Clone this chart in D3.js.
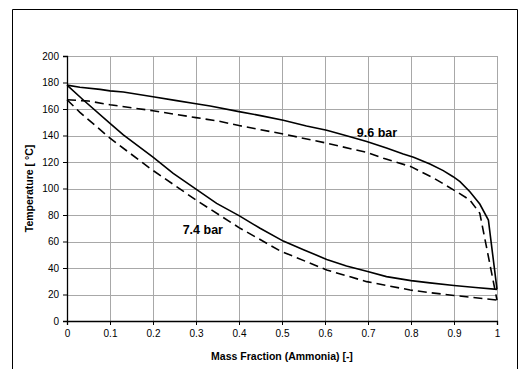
<!DOCTYPE html>
<html><head><meta charset="utf-8">
<script src="https://cdn.jsdelivr.net/npm/d3@7"></script>
<style>
html,body{margin:0;padding:0;background:#fff;}
svg{display:block;font-family:"Liberation Sans",Arial,sans-serif;}
</style></head>
<body>
<script>
// ---- data ----
const xTicks = [0, 0.1, 0.2, 0.3, 0.4, 0.5, 0.6, 0.7, 0.8, 0.9, 1];
const xTickLabels = ["0", "0.1", "0.2", "0.3", "0.4", "0.5", "0.6", "0.7", "0.8", "0.9", "1"];
const yTicks = [0, 20, 40, 60, 80, 100, 120, 140, 160, 180, 200];

const dew96X = [0, 0.03, 0.077, 0.1, 0.131, 0.2, 0.255, 0.3, 0.333, 0.4, 0.45, 0.503, 0.557, 0.604, 0.65, 0.697, 0.743, 0.782, 0.806, 0.844, 0.875, 0.898, 0.914, 0.937, 0.96, 0.98, 1.0];
const dew96T = [178, 176.4, 174.8, 173.7, 172.8, 169.3, 166.3, 164, 162.3, 158, 155, 151.5, 147.2, 144, 139.8, 135.5, 130.5, 126, 123.5, 118.5, 113.5, 108.9, 105.2, 97.6, 88.3, 76.2, 23.9];

const dew74X = [0, 0.05, 0.1, 0.2, 0.3, 0.35, 0.4, 0.5, 0.6, 0.7, 0.736, 0.8, 0.852, 0.906, 0.937, 0.96, 1.0];
const dew74T = [167, 166, 163.2, 158.7, 153.5, 151, 147.5, 141.3, 134.5, 127, 122.8, 116.5, 108, 97.6, 91.3, 81.3, 15.8];

const bub96X = [0, 0.038, 0.1, 0.131, 0.2, 0.247, 0.3, 0.348, 0.4, 0.449, 0.503, 0.55, 0.604, 0.65, 0.697, 0.743, 0.8, 0.844, 0.9, 0.95, 1.0];
const bub96T = [178, 166.8, 149.2, 140.4, 123.7, 111.4, 99.5, 88.8, 79.5, 70, 60.3, 53.8, 46.5, 41.5, 37.5, 33.5, 30.5, 28.8, 26.8, 25.3, 23.9];

const bub74X = [0, 0.03, 0.1, 0.193, 0.3, 0.4, 0.495, 0.604, 0.697, 0.798, 0.844, 0.9, 1.0];
const bub74T = [167, 157.5, 138, 115.2, 91.3, 70.5, 53, 38.5, 29.7, 23.4, 21.4, 19.3, 15.8];

const labelText = ["9.6 bar", "7.4 bar"];
const labelX = [0.674, 0.269];
const labelT = [139, 65.7];

const xTitle = "Mass Fraction (Ammonia) [-]";
const yTitle = "Temperature  [ °C]";

// ---- layout ----
const W = 524, H = 369;
const m = {left: 67, right: 27, top: 56, bottom: 48};
const svg = d3.select("body").append("svg").attr("width", W).attr("height", H);

// outer frame (open at bottom)
svg.append("path").attr("d", `M12.5,${H+2} V9.5 H517.5 V${H+2}`)
  .attr("fill", "none").attr("stroke", "#000").attr("stroke-width", 1);

const x = d3.scaleLinear().domain([0, 1]).range([m.left, W - m.right]);
const y = d3.scaleLinear().domain([0, 200]).range([H - m.bottom, m.top]);

const grid = svg.append("g");
grid.selectAll("line.h").data(yTicks.filter(d => d > 0)).join("line")
  .attr("x1", x(0)).attr("x2", x(1))
  .attr("y1", d => Math.round(y(d)) + 0.5).attr("y2", d => Math.round(y(d)) + 0.5)
  .attr("stroke", "#a8a8a8").attr("stroke-width", 1);
grid.selectAll("line.v").data(xTicks.filter(d => d > 0)).join("line")
  .attr("y1", y(0)).attr("y2", y(200))
  .attr("x1", d => Math.round(x(d)) + 0.5).attr("x2", d => Math.round(x(d)) + 0.5)
  .attr("stroke", "#a8a8a8").attr("stroke-width", 1);

// axes
const xAxis = d3.axisBottom(x).tickValues(xTicks).tickFormat((d, i) => xTickLabels[i]).tickSize(4).tickPadding(5);
const yAxis = d3.axisLeft(y).tickValues(yTicks).tickFormat(d3.format("d")).tickSize(4).tickPadding(4);
const gx = svg.append("g").attr("transform", `translate(0,${y(0)})`).call(xAxis);
const gy = svg.append("g").attr("transform", `translate(${x(0)},0)`).call(yAxis);
[gx, gy].forEach(g => {
  g.select(".domain").attr("stroke", "#000").attr("stroke-width", 1.3);
  g.selectAll(".tick line").attr("stroke", "#000");
  g.selectAll(".tick text").attr("font-size", 10).attr("fill", "#000")
    .attr("font-family", "Liberation Sans, Arial, sans-serif");
});

// curves
const line = d3.line().x(d => x(d[0])).y(d => y(d[1]));
const series = [
  {xs: dew96X, ts: dew96T, dash: null},
  {xs: dew74X, ts: dew74T, dash: "9,5"},
  {xs: bub96X, ts: bub96T, dash: null},
  {xs: bub74X, ts: bub74T, dash: "9,5"}
];
series.forEach(s => {
  svg.append("path").datum(d3.zip(s.xs, s.ts)).attr("d", line)
    .attr("fill", "none").attr("stroke", "#000").attr("stroke-width", 1.6)
    .attr("stroke-dasharray", s.dash);
});

// annotations
svg.selectAll("text.lab").data(labelText).join("text")
  .attr("x", (d, i) => x(labelX[i])).attr("y", (d, i) => y(labelT[i]))
  .attr("font-size", 12.5).attr("font-weight", "bold").attr("fill", "#000")
  .text(d => d);

// titles
svg.append("text").attr("x", (x(0) + x(1)) / 2).attr("y", 360)
  .attr("text-anchor", "middle").attr("font-size", 10.5).attr("font-weight", "bold")
  .text(xTitle);
svg.append("text").attr("transform", `translate(33,${(y(0) + y(200)) / 2}) rotate(-90)`)
  .attr("text-anchor", "middle").attr("font-size", 10.5).attr("font-weight", "bold")
  .text(yTitle);
</script>
</body></html>
